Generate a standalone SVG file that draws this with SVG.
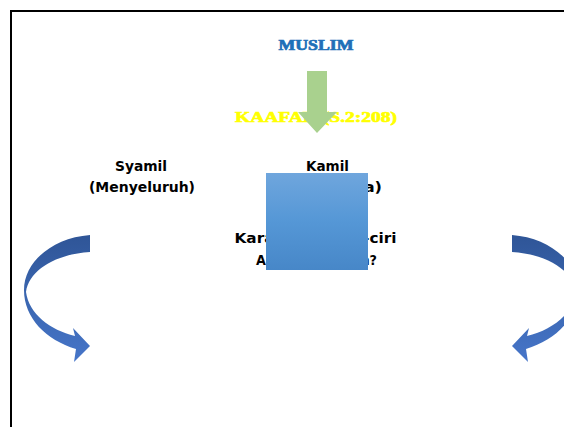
<svg xmlns="http://www.w3.org/2000/svg" width="564" height="427" viewBox="0 0 564 427">
<defs>
<linearGradient id="gBox" x1="0" y1="0" x2="0" y2="1">
<stop offset="0" stop-color="#6fa6dd"/>
<stop offset="0.5" stop-color="#5597d6"/>
<stop offset="1" stop-color="#4787c8"/>
</linearGradient>
<linearGradient id="gArr" x1="0" y1="0" x2="0" y2="1">
<stop offset="0" stop-color="#2f5597"/>
<stop offset="0.5" stop-color="#3a66b0"/>
<stop offset="1" stop-color="#4675c9"/>
</linearGradient>
<path id="curve" d="M90,235 C52,238 24,262 24,290 C24,318 46,340 76,349 L74,362 L90,346 L73,328 L75,336 C50,330 29,314 26,292 C29,270 56,254 90,252 Z"/>
</defs>
<style>
.lbl{font-family:"DejaVu Sans","Liberation Sans",sans-serif;font-weight:bold;font-size:13.5px;fill:#000;text-anchor:middle}
.ttl{font-family:"Liberation Serif","DejaVu Serif",serif;font-weight:bold;text-anchor:middle;stroke-width:0.7}
</style>
<rect x="0" y="0" width="564" height="427" fill="#fff"/>
<rect x="11" y="11" width="600" height="500" fill="none" stroke="#000" stroke-width="2"/>
<g id="muslim"><text class="ttl" x="316" y="50" font-size="14" fill="#1f70b8" stroke="#1f70b8" textLength="75" lengthAdjust="spacingAndGlyphs">MUSLIM</text></g>
<g id="kaafah"><text class="ttl" x="316" y="122" font-size="15" fill="#ffff00" stroke="#ffff00" textLength="162" lengthAdjust="spacingAndGlyphs">KAAFAH (S.2:208)</text></g>
<g id="connectors">
<path id="down-arrow" d="M307,71 H327 V112 H337 L317,133 L298,112 H307 Z" fill="#a9d18e"/>
<use id="left-curve" href="#curve" fill="url(#gArr)"/>
<use id="right-curve" href="#curve" fill="url(#gArr)" transform="translate(602,0) scale(-1,1)"/>
</g>
<g id="syamil">
<text class="lbl" x="141" y="171" textLength="52" lengthAdjust="spacingAndGlyphs">Syamil</text>
<text class="lbl" x="142" y="192" textLength="106" lengthAdjust="spacingAndGlyphs">(Menyeluruh)</text>
</g>
<g id="kamil">
<text class="lbl" x="327.5" y="171" textLength="43" lengthAdjust="spacingAndGlyphs">Kamil</text>
<text class="lbl" x="328" y="192" textLength="108" lengthAdjust="spacingAndGlyphs">(Sempurna)</text>
</g>
<g id="ciri">
<text class="lbl" x="315.5" y="243" textLength="162" lengthAdjust="spacingAndGlyphs">Karakter &amp; Ciri-ciri</text>
<text class="lbl" x="316.5" y="265" textLength="121" lengthAdjust="spacingAndGlyphs">Apa Maksudnya?</text>
</g>
<g id="box"><rect x="266" y="173" width="102" height="97" fill="url(#gBox)"/></g>
</svg>
